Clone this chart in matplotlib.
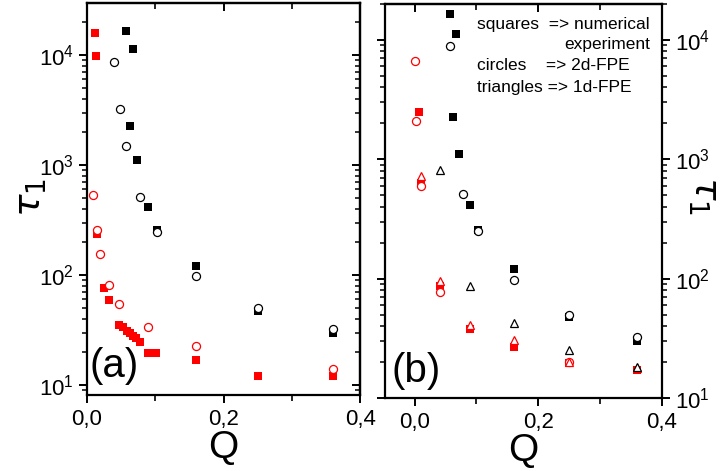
import matplotlib
matplotlib.use('Agg')
import matplotlib.pyplot as plt
from matplotlib.ticker import LogLocator, FuncFormatter, MultipleLocator, NullFormatter

plt.rcParams['font.family'] = ['Liberation Sans', 'DejaVu Sans']
plt.rcParams['mathtext.fontset'] = 'custom'
plt.rcParams['mathtext.rm'] = 'Liberation Sans'
plt.rcParams['mathtext.it'] = 'Liberation Sans:italic'

# numerical experiment, black squares (same in both panels)
q_num_k = [0.057, 0.0673, 0.0624, 0.0725, 0.090, 0.102, 0.160, 0.250, 0.360]
tau_num_k = [16400, 11300, 2280, 1100, 416, 256, 120, 47.5, 30]

# panel (a)
q_a_circ_k = [0.0395, 0.0478, 0.057, 0.0775, 0.102, 0.160, 0.250, 0.360]
tau_a_circ_k = [8600, 3200, 1500, 508, 248, 99, 50.5, 32.5]
q_a_sq_r = [0.0117, 0.0127, 0.014, 0.0249, 0.0315, 0.0473, 0.0532, 0.0581, 0.0634,
            0.0667, 0.0713, 0.078, 0.090, 0.1015, 0.160, 0.250, 0.360]
tau_a_sq_r = [15900, 9800, 234, 77, 59, 35, 33.5, 31.2, 29.7,
              27.9, 26.6, 24.8, 19.7, 19.7, 16.9, 12.2, 12.0]
q_a_circ_r = [0.0092, 0.014, 0.019, 0.0317, 0.047, 0.0889, 0.160, 0.360]
tau_a_circ_r = [533, 257, 155, 82, 55, 34, 22.9, 14]

# panel (b)
q_b_circ_k = [0.0575, 0.0783, 0.1026, 0.160, 0.250, 0.360]
tau_b_circ_k = [8900, 514, 249, 98, 50, 32.5]
q_b_tri_k = [0.0405, 0.089, 0.160, 0.250, 0.360]
tau_b_tri_k = [810, 86, 42.8, 25, 18.1]
q_b_sq_r = [0.007, 0.0108, 0.0405, 0.090, 0.160, 0.250, 0.360]
tau_b_sq_r = [2510, 631, 86, 38, 26.8, 19.5, 17]
q_b_circ_r = [0.001, 0.0027, 0.0108, 0.0405, 0.250]
tau_b_circ_r = [6700, 2110, 592, 78, 20]
q_b_tri_r = [0.0108, 0.0405, 0.090, 0.160, 0.250, 0.360]
tau_b_tri_r = [718, 95, 40.5, 30.5, 20, 17.8]

fig = plt.figure(figsize=(7.25, 4.71), dpi=100)
ax1 = fig.add_axes([0.120, 0.161, 0.377, 0.832])
ax2 = fig.add_axes([0.531, 0.155, 0.382, 0.8365])

comma = FuncFormatter(lambda v, p: ('%.1f' % v).replace('.', ','))

sq = dict(ls='none', marker='s', ms=6.2, mew=0)
ci = dict(ls='none', marker='o', ms=5.8, mfc='white', mew=0.9)
tr = dict(ls='none', marker='^', ms=6.3, mfc='white', mew=0.9)

# (a)
ax1.plot(q_num_k, tau_num_k, color='black', **sq)
ax1.plot(q_a_sq_r, tau_a_sq_r, color='red', **sq)
ax1.plot(q_a_circ_k, tau_a_circ_k, color='black', **ci)
ax1.plot(q_a_circ_r, tau_a_circ_r, color='red', **ci)

# (b)
ax2.plot(q_num_k, tau_num_k, color='black', **sq)
ax2.plot(q_b_sq_r, tau_b_sq_r, color='red', **sq)
ax2.plot(q_b_circ_k, tau_b_circ_k, color='black', **ci)
ax2.plot(q_b_circ_r, tau_b_circ_r, color='red', **ci)
ax2.plot(q_b_tri_r, tau_b_tri_r, color='red', **tr)
ax2.plot(q_b_tri_k, tau_b_tri_k, color='black', **tr)

ax1.set_xlim(0, 0.4)
ax1.set_ylim(8.1, 29500)
ax2.set_xlim(-0.048, 0.4)
ax2.set_ylim(10, 20000)

for ax in (ax1, ax2):
    ax.set_yscale('log')
    ax.xaxis.set_major_locator(MultipleLocator(0.2))
    ax.xaxis.set_minor_locator(MultipleLocator(0.1))
    ax.xaxis.set_major_formatter(comma)
    ax.yaxis.set_major_locator(LogLocator(base=10, numticks=10))
    ax.yaxis.set_minor_locator(LogLocator(base=10, subs=range(2, 10), numticks=10))
    ax.yaxis.set_minor_formatter(NullFormatter())
    for s in ax.spines.values():
        s.set_linewidth(1.6)
    ax.tick_params(axis='x', which='major', direction='out', length=6, width=1.4,
                   labelsize=16, top=False, pad=4)
    ax.tick_params(axis='x', which='minor', direction='out', length=4, width=1.2, top=False)
    ax.set_xlabel('Q', fontsize=28, labelpad=0)
    # ticks on top point inward
    sx = ax.secondary_xaxis('top')
    sx.xaxis.set_major_locator(MultipleLocator(0.2))
    sx.xaxis.set_minor_locator(MultipleLocator(0.1))
    sx.tick_params(which='major', direction='in', length=6, width=1.4, labeltop=False)
    sx.tick_params(which='minor', direction='in', length=4, width=1.2)
    sx.spines['top'].set_linewidth(1.6)

# (a): left ticks out with labels, right ticks in
ax1.tick_params(axis='y', which='major', direction='out', length=6, width=1.4,
                labelsize=16, right=False)
ax1.tick_params(axis='y', which='minor', direction='out', length=3.5, width=1.1, right=False)
sy = ax1.secondary_yaxis('right')
sy.tick_params(which='major', direction='in', length=6, width=1.4, labelright=False)
sy.tick_params(which='minor', direction='in', length=3.5, width=1.1)
sy.yaxis.set_minor_formatter(NullFormatter())
sy.spines['right'].set_linewidth(1.6)
ax1.set_ylabel(r'$\tau_1$', fontsize=27, va='center', math_fontfamily='dejavusans')
ax1.yaxis.set_label_coords(-0.205, 0.505)

# (b): ticks out on both sides, labels right
ax2.tick_params(axis='y', which='major', direction='out', length=6, width=1.4,
                labelsize=16, left=True, right=True, labelleft=False, labelright=True)
ax2.tick_params(axis='y', which='minor', direction='out', length=3.5, width=1.1,
                left=True, right=True)
ax2.yaxis.set_label_position('right')
ax2.set_ylabel(r'$\tau_1$', fontsize=27, rotation=270, va='center',
               math_fontfamily='dejavusans')
ax2.yaxis.set_label_coords(1.152, 0.515)

ax1.text(0.01, 0.075, '(a)', transform=ax1.transAxes, fontsize=29, va='center')
ax2.text(0.025, 0.068, '(b)', transform=ax2.transAxes, fontsize=29, va='center')

leg = dict(transform=ax2.transAxes, fontsize=12.5, va='center')
ax2.text(0.332, 0.947, 'squares  => numerical', ha='left', **leg)
ax2.text(0.957, 0.896, 'experiment', ha='right', **leg)
ax2.text(0.332, 0.845, 'circles    => 2d-FPE', ha='left', **leg)
ax2.text(0.332, 0.787, 'triangles => 1d-FPE', ha='left', **leg)

fig.savefig('out.png', dpi=100)
